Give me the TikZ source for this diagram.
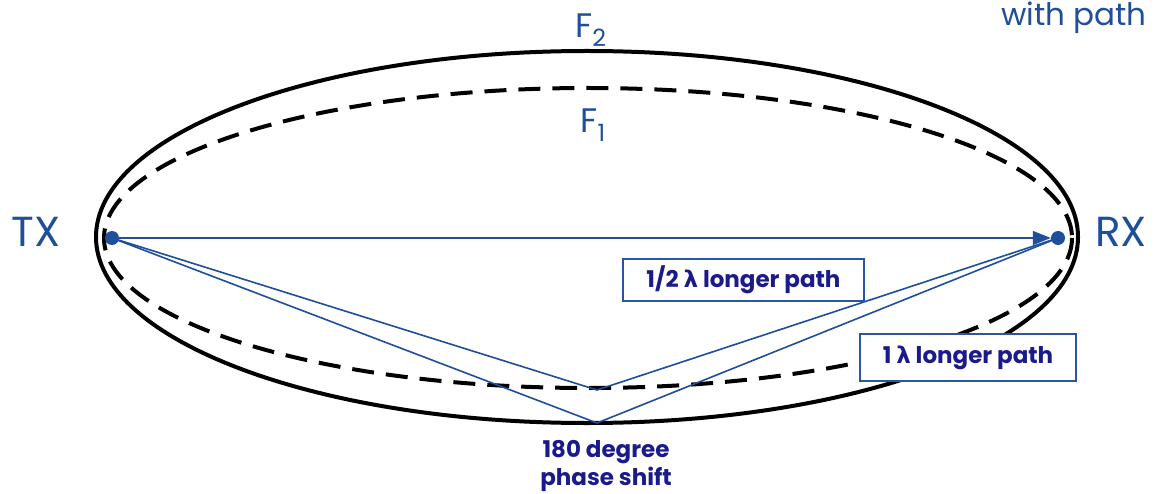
\documentclass[tikz,border=0pt]{standalone}
\usepackage{fontspec}
\setmainfont{Poppins}
\newfontfamily\lamfont{DejaVu Sans}
\usetikzlibrary{arrows.meta}
\definecolor{tblue}{HTML}{1F4E9A}
\definecolor{navy}{HTML}{1A1A8C}
\definecolor{lblue}{HTML}{2A55A0}
\begin{document}
\begin{tikzpicture}[x=1pt,y=-1pt,
  ray/.style={draw=tblue,line width=1.6pt},
  dot/.style={circle,fill=tblue,inner sep=0pt,minimum size=14pt},
  big/.style={text=tblue,font=\fontsize{42}{42}\selectfont,inner sep=0pt},
  fl/.style={text=tblue,font=\fontsize{34}{34}\selectfont,inner sep=0pt},
  lbl/.style={draw=lblue,line width=1.8pt,fill=white,text=navy,font=\bfseries\fontsize{23}{23}\selectfont,inner sep=0pt},
  note/.style={text=navy,font=\bfseries\fontsize{23}{28}\selectfont,align=center,inner sep=0pt}]
\useasboundingbox (0,0) rectangle (1155,494);
\draw[line width=4pt] (587,237) ellipse [x radius=491, y radius=186];
\draw[line width=4pt, dash pattern=on 22pt off 12pt] (588,238) ellipse [x radius=484, y radius=150];
\node[dot] (tx) at (112,238) {};
\node[dot] (rx) at (1058,238) {};
\coordinate (r1) at (597,390);
\coordinate (r2) at (597,423);
\draw[ray] (tx.center) -- (r1) -- (rx.center);
\draw[ray] (tx.center) -- (r2) -- (rx.center);
\draw[ray,-{Triangle[length=18pt,width=14pt]}] (tx) -- (rx);
\node[big] (txl) at (36,232) {TX};
\node[big] (rxl) at (1121,232) {RX};
\node[fl] (f2) at (591,30) {F\textsubscript{2}};
\node[fl] (f1) at (593,125) {F\textsubscript{1}};
\node[fl,anchor=base,font=\fontsize{31}{31}\selectfont] (wp) at (1074,26) {with path};
\node[lbl,minimum width=241pt,minimum height=42pt] (b1) at (743.5,280) {1/2 {\lamfont λ} longer path};
\node[lbl,minimum width=216pt,minimum height=47pt] (b2) at (968,357.5) {1 {\lamfont λ} longer path};
\node[note,anchor=north] (ps) at (606,440) {180 degree\\phase shift};
\end{tikzpicture}
\end{document}
